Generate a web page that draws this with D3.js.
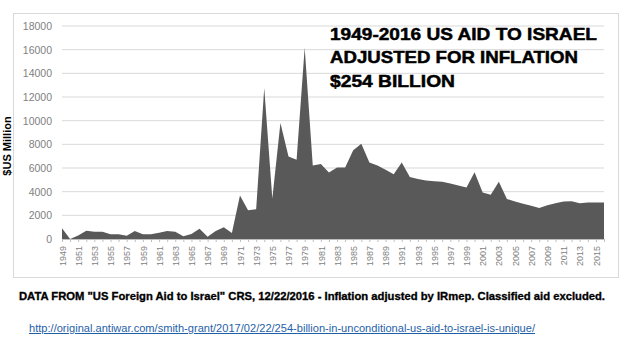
<!DOCTYPE html>
<html lang="en">
	<head>
		<meta charset="UTF-8" />
		<title>US Aid to Israel</title>
		<style>
			body { margin: 0; background: #fff; }
			svg { display: block; }
		</style>
	</head>
	<body>
		<svg id="svg" width="623" height="351"></svg>
		<script src="https://cdn.jsdelivr.net/npm/d3@7"></script>
		<script>
			// Data ($US million, inflation adjusted)
			const years = d3.range(1949, 2017);
			const aid = [
				900, 0, 300, 700, 620, 620, 400, 400, 280, 680,
				400, 400, 530, 680, 620, 230, 420, 870, 200, 680,
				990, 510, 3670, 2430, 2520, 12770, 3420, 9800, 6970, 6700,
				16160, 6210, 6330, 5620, 6050, 6050, 7490, 8050, 6470, 6210,
				5850, 5480, 6470, 5230, 5060, 4940, 4890, 4830, 4690, 4520,
				4350, 5650, 3920, 3750, 4830, 3390, 3160, 2970, 2800, 2630,
				2850, 3020, 3160, 3190, 3020, 3080, 3080, 3080
			];
			const yTicks = [0, 2000, 4000, 6000, 8000, 10000, 12000, 14000, 16000, 18000];
			const titleLines = ['1949-2016 US AID TO ISRAEL', 'ADJUSTED FOR INFLATION', '$254 BILLION'];
			const sourceNote = 'DATA FROM "US Foreign Aid to Israel" CRS, 12/22/2016 - Inflation adjusted by IRmep. Classified aid excluded.';
			const linkText = 'http://original.antiwar.com/smith-grant/2017/02/22/254-billion-in-unconditional-us-aid-to-israel-is-unique/';

			const data = years.map((y, i) => ({ year: y, value: aid[i] }));

			const svg = d3.select('#svg');
			const plotLeft = 62, plotRight = 604, plotTop = 26, plotBottom = 239;

			// frame
			svg.append('rect')
				.attr('x', 13.5).attr('y', 13.5)
				.attr('width', 605).attr('height', 264)
				.attr('fill', '#fff')
				.attr('stroke', '#d9d9d9');

			// scales
			const x = d3.scaleLinear().domain([1949, 2016]).range([plotLeft, plotRight]);
			const y = d3.scaleLinear().domain([0, 18000]).range([plotBottom, plotTop]);

			// gridlines
			svg.append('g')
				.selectAll('line')
				.data(yTicks.slice(1))
				.join('line')
				.attr('x1', plotLeft).attr('x2', plotRight)
				.attr('y1', d => y(d)).attr('y2', d => y(d))
				.attr('stroke', '#d9d9d9')
				.attr('stroke-width', 1);

			// area
			const areaGen = d3.area()
				.x(d => x(d.year))
				.y0(y(0))
				.y1(d => y(d.value));

			svg.append('path')
				.attr('d', areaGen(data))
				.attr('fill', '#595959');

			// y axis labels
			const leftAxis = d3.axisLeft(y)
				.tickValues(yTicks)
				.tickFormat(d3.format('d'))
				.tickSize(0)
				.tickPadding(10);
			const gy = svg.append('g')
				.attr('transform', `translate(${plotLeft}, 0)`)
				.call(leftAxis);
			gy.select('.domain').remove();
			gy.selectAll('text')
				.attr('font-family', 'Liberation Sans, Arial, sans-serif')
				.attr('font-size', 10.5)
				.attr('fill', '#7f7f7f');

			// x axis
			const bottomAxis = d3.axisBottom(x)
				.tickValues(years)
				.tickSize(3)
				.tickFormat(d => (d % 2 === 1 ? d : ''));
			const gx = svg.append('g')
				.attr('transform', `translate(0, ${plotBottom})`)
				.call(bottomAxis);
			gx.select('.domain').attr('stroke', '#bfbfbf');
			gx.selectAll('line').attr('stroke', '#bfbfbf');
			gx.selectAll('text')
				.attr('font-family', 'Liberation Sans, Arial, sans-serif')
				.attr('font-size', 9)
				.attr('fill', '#7f7f7f')
				.attr('text-anchor', 'end')
				.attr('transform', 'rotate(-90)')
				.attr('x', -7)
				.attr('y', 0)
				.attr('dy', '0.35em');

			// y axis title
			svg.append('text')
				.attr('transform', 'translate(11, 146) rotate(-90)')
				.attr('text-anchor', 'middle')
				.attr('font-family', 'Liberation Sans, Arial, sans-serif')
				.attr('font-weight', 'bold')
				.attr('font-size', 11)
				.text('$US Million');

			// title block
			const titleWidths = [267, 248, 125];
			svg.append('g')
				.selectAll('text')
				.data(titleLines)
				.join('text')
				.attr('x', 330)
				.attr('y', (d, i) => 40 + i * 23.4)
				.attr('font-family', 'Liberation Sans, Arial, sans-serif')
				.attr('font-weight', 'bold')
				.attr('font-size', 17)
				.attr('textLength', (d, i) => titleWidths[i])
				.attr('lengthAdjust', 'spacingAndGlyphs')
				.attr('fill', '#000')
				.attr('stroke', '#000')
				.attr('stroke-width', 0.5)
				.text(d => d);

			// source note
			svg.append('text')
				.attr('x', 19)
				.attr('y', 300)
				.attr('font-family', 'Liberation Sans, Arial, sans-serif')
				.attr('font-weight', 'bold')
				.attr('font-size', 10)
				.attr('textLength', 586)
				.attr('lengthAdjust', 'spacingAndGlyphs')
				.attr('stroke', '#000')
				.attr('stroke-width', 0.3)
				.text(sourceNote);

			// link
			svg.append('text')
				.attr('x', 29)
				.attr('y', 332)
				.attr('font-family', 'Liberation Sans, Arial, sans-serif')
				.attr('font-size', 10)
				.attr('textLength', 506)
				.attr('lengthAdjust', 'spacingAndGlyphs')
				.attr('fill', '#1f5fa8')
				.attr('text-decoration', 'underline')
				.text(linkText);
		</script>
	</body>
</html>
